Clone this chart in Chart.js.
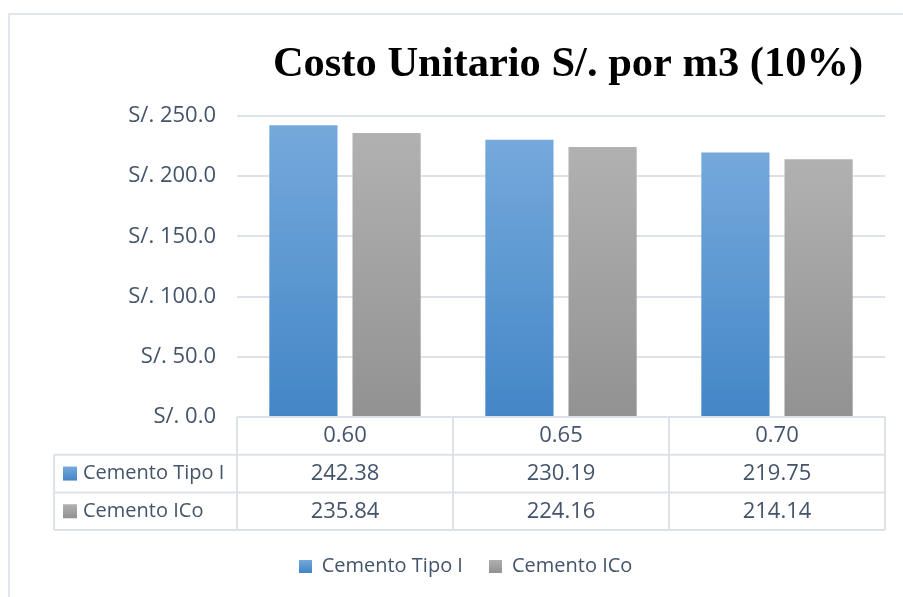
<!DOCTYPE html>
<html>
<head>
<meta charset="utf-8">
<script src="https://cdn.jsdelivr.net/npm/chart.js@4/dist/chart.umd.min.js"></script>
<style>
  html, body { margin: 0; padding: 0; background: #fff; }
  #wrap { position: relative; width: 903px; height: 597px; overflow: hidden; }
  #frame { position: absolute; left: 8px; top: 13px; width: 1000px; height: 700px;
           border: 2px solid #e1e6ec; box-sizing: border-box; }
  #costoChart { position: absolute; left: 0; top: 0; }
</style>
</head>
<body>
<div id="wrap">
  <div id="frame"></div>
  <canvas id="costoChart" width="903" height="597"></canvas>
</div>
<script>
// relacion a/c y costo unitario por m3
var categorias   = ['0.60', '0.65', '0.70'];
var costoTipoI   = [242.38, 230.19, 219.75];
var costoICo     = [235.84, 224.16, 214.14];
var nombresSerie = ['Cemento Tipo I', 'Cemento ICo'];
var tituloGrafico = 'Costo Unitario S/. por m3 (10%)';

var fuente = '"Open Sans", "DejaVu Sans", sans-serif';
var colorTexto = '#44546a';
var colorLinea = '#dde2e9';

// colores del degradado: [arriba, abajo]
var degradados = [['#75a9dc', '#4386c6'], ['#b1b1b1', '#929292']];
var colorSolido = ['#5b9bd5', '#a5a5a5'];

function rellenoBarra(serie){
    return function(context){
        var chart = context.chart;
        var area = chart.chartArea;
        if (!area || context.parsed == null) { return colorSolido[serie]; }
        var y = chart.scales.y;
        var top = y.getPixelForValue(context.parsed.y);
        var bottom = y.getPixelForValue(0);
        var g = chart.ctx.createLinearGradient(0, top, 0, bottom);
        g.addColorStop(0, degradados[serie][0]);
        g.addColorStop(1, degradados[serie][1]);
        return g;
    };
}

function cuadroDegradado(ctx, x, y, size, serie){
    var g = ctx.createLinearGradient(0, y, 0, y + size);
    g.addColorStop(0, degradados[serie][0]);
    g.addColorStop(1, degradados[serie][1]);
    ctx.fillStyle = g;
    ctx.fillRect(x, y, size, size);
}

// cuadritos de la leyenda como imagen con degradado
function iconoLeyenda(serie){
    var c = document.createElement('canvas');
    c.width = 13; c.height = 13;
    cuadroDegradado(c.getContext('2d'), 0, 0, 13, serie);
    return c;
}
var iconos = [iconoLeyenda(0), iconoLeyenda(1)];

// titulo y tabla de datos bajo el eje x
var tablaDatos = {
    id: 'tablaDatos',
    afterDraw: function(chart){
        var ctx = chart.ctx;
        var area = chart.chartArea;
        var xs = chart.scales.x;
        var filaAlto = 37.7;
        var izqTabla = 54;
        var ancho = area.width / categorias.length;
        var series = [costoTipoI, costoICo];

        ctx.save();

        // titulo
        ctx.fillStyle = '#000';
        ctx.font = 'bold 42.5px "Liberation Serif", "Times New Roman", serif';
        ctx.textAlign = 'center';
        ctx.textBaseline = 'alphabetic';
        ctx.fillText(tituloGrafico, (area.left + area.right) / 2 + 7, 76);

        // lineas de la tabla
        ctx.strokeStyle = colorLinea;
        ctx.lineWidth = 2;
        ctx.beginPath();
        var y0 = area.bottom;
        ctx.moveTo(area.left, y0); ctx.lineTo(area.right, y0);
        for (var r = 1; r <= 3; r++){
            ctx.moveTo(izqTabla, y0 + r * filaAlto);
            ctx.lineTo(area.right, y0 + r * filaAlto);
        }
        ctx.moveTo(izqTabla, y0 + filaAlto); ctx.lineTo(izqTabla, y0 + 3 * filaAlto);
        for (var c = 0; c <= categorias.length; c++){
            var xv = area.left + c * ancho;
            ctx.moveTo(xv, y0); ctx.lineTo(xv, y0 + 3 * filaAlto);
        }
        ctx.stroke();

        // textos
        ctx.fillStyle = colorTexto;
        ctx.font = '22px ' + fuente;
        ctx.textBaseline = 'middle';
        ctx.textAlign = 'center';
        categorias.forEach(function(cat, i){
            var cx = xs.getPixelForValue(i);
            ctx.fillText(cat, cx, y0 + filaAlto / 2);
            series.forEach(function(s, k){
                ctx.fillText(s[i].toFixed(2), cx, y0 + filaAlto * (k + 1.5));
            });
        });

        // nombres de serie con su cuadro
        ctx.font = '20px ' + fuente;
        nombresSerie.forEach(function(nombre, k){
            var cy = y0 + filaAlto * (k + 1.5);
            cuadroDegradado(ctx, izqTabla + 9, cy - 7, 14, k);
            ctx.fillStyle = colorTexto;
            ctx.textAlign = 'left';
            ctx.fillText(nombre, izqTabla + 29, cy);
        });

        ctx.restore();
    }
};

var ctx = document.getElementById('costoChart').getContext('2d');
var costoChart = new Chart(ctx, {
    type: 'bar',
    data: {
        labels: categorias,
        datasets: [{
            label: nombresSerie[0],
            data: costoTipoI,
            backgroundColor: rellenoBarra(0),
            borderWidth: 0
        }, {
            label: nombresSerie[1],
            data: costoICo,
            backgroundColor: rellenoBarra(1),
            borderWidth: 0
        }]
    },
    options: {
        responsive: false,
        animation: false,
        datasets: {
            bar: { categoryPercentage: 0.77, barPercentage: 0.82 }
        },
        layout: {
            padding: { top: 116, right: 18, left: 46, bottom: 11 }
        },
        plugins: {
            title: { display: false },
            tooltip: { enabled: false },
            legend: {
                position: 'bottom',
                labels: {
                    color: colorTexto,
                    font: { family: fuente, size: 20 },
                    boxWidth: 13,
                    boxHeight: 13,
                    padding: 26,
                    usePointStyle: true,
                    generateLabels: function(chart){
                        return nombresSerie.map(function(n, k){
                            return { text: n, fillStyle: colorSolido[k], strokeStyle: colorSolido[k],
                                     lineWidth: 0, datasetIndex: k, fontColor: colorTexto,
                                     pointStyle: iconos[k] };
                        });
                    }
                }
            }
        },
        scales: {
            x: {
                grid: { display: false },
                border: { display: false },
                ticks: { display: false },
                afterFit: function(scale){ scale.height = 113; }
            },
            y: {
                min: 0,
                max: 250,
                ticks: {
                    stepSize: 50,
                    padding: 21,
                    color: colorTexto,
                    font: { family: fuente, size: 22 },
                    callback: function(v){ return 'S/. ' + Number(v).toFixed(1); }
                },
                grid: { color: colorLinea, lineWidth: 2, drawTicks: false },
                border: { display: false },
                afterFit: function(scale){ scale.width = 191; }
            }
        }
    },
    plugins: [tablaDatos]
});
</script>
</body>
</html>
